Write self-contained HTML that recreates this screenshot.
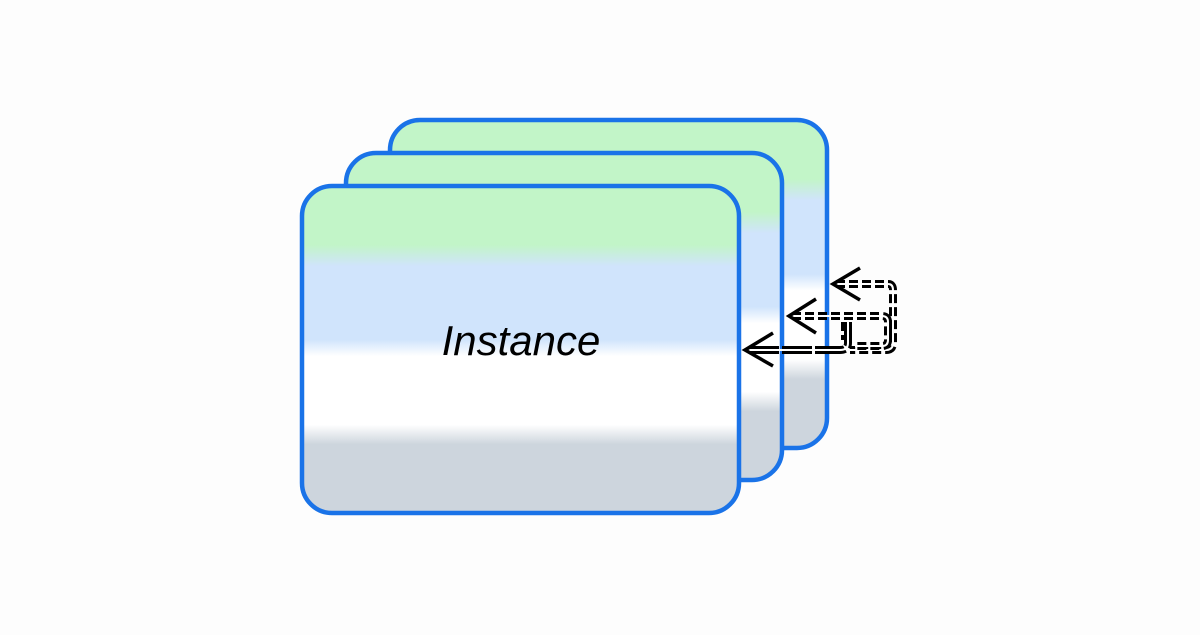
<!DOCTYPE html>
<html><head><style>body{margin:0;background:#fdfdfd;}</style></head><body>
<svg width="1200" height="630" xmlns="http://www.w3.org/2000/svg">
<defs>
<linearGradient id="g" x1="0" y1="0" x2="0" y2="1">
<stop offset="0" stop-color="#c2f5c8"/><stop offset="0.18" stop-color="#c2f5c8"/>
<stop offset="0.245" stop-color="#d0e4fc"/><stop offset="0.47" stop-color="#d0e4fc"/>
<stop offset="0.52" stop-color="#ffffff"/><stop offset="0.73" stop-color="#ffffff"/>
<stop offset="0.79" stop-color="#cdd5dd"/><stop offset="1" stop-color="#cdd5dd"/>
</linearGradient>
</defs>
<rect x="390" y="120" width="437" height="328" rx="30" fill="url(#g)" stroke="#1a73e8" stroke-width="4.5"/>
<rect x="346" y="153" width="436" height="327" rx="30" fill="url(#g)" stroke="#1a73e8" stroke-width="4.5"/>
<rect x="302" y="186" width="437" height="327" rx="30" fill="url(#g)" stroke="#1a73e8" stroke-width="4.5"/>
<text x="521" y="355" font-family="Liberation Sans, sans-serif" font-style="italic" font-size="42" text-anchor="middle" fill="#000">Instance</text>
<g fill="none">
<path d="M836 284 H888 Q893 284 893 290 V343 Q893 350 886 350 H850" stroke="#000" stroke-width="8" stroke-dasharray="9 4"/>
<path d="M836 284 H888 Q893 284 893 290 V343 Q893 350 886 350 H850" stroke="#fff" stroke-width="2"/>
<path d="M792 316 H882 Q888 316 888 322 V340 Q888 346 882 346 H855 M845 322 V340" stroke="#000" stroke-width="8" stroke-dasharray="9 4"/>
<path d="M792 316 H882 Q888 316 888 322 V340 Q888 346 882 346 H855 M845 322 V340" stroke="#fff" stroke-width="2"/>
<path d="M749 350 H840 Q848 350 848 343 V322" stroke="#000" stroke-width="8" stroke-dasharray="30 3"/>
<path d="M749 350 H840 Q848 350 848 343 V322" stroke="#fff" stroke-width="2"/>
<g stroke="#000" stroke-width="3.5">
<path d="M860 268 L833 284 L860 300"/>
<path d="M816 299 L789 316 L816 333"/>
<path d="M773 333 L745 350 L773 366"/>
</g>
</g>
</svg>
</body></html>
